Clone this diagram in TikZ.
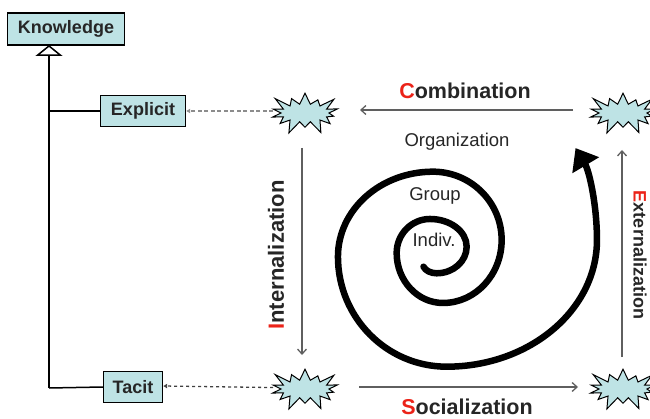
\documentclass[tikz,border=0pt]{standalone}
\usepackage{fontspec}
\setmainfont{Liberation Sans}
\usetikzlibrary{arrows.meta,shapes.symbols}
\definecolor{boxfill}{RGB}{190,227,229}
\definecolor{lred}{RGB}{235,35,25}
\definecolor{flowgray}{RGB}{95,95,95}
\tikzset{
 kbox/.style={draw, line width=1.2pt, fill=boxfill, inner sep=0pt, font=\fontsize{18}{21}\selectfont\bfseries, text=black!85},
 burst/.style={starburst, starburst points=14, starburst point height=15pt, draw, line width=1pt, fill=boxfill, minimum width=78pt, minimum height=48pt, inner sep=0pt},
 flow/.style={draw=flowgray, line width=1.3pt, -{Straight Barb[length=5pt,width=9pt]}},
 modelab/.style={font=\fontsize{21.5}{25}\selectfont\bfseries, text=black!85},
 levellab/.style={font=\fontsize{18.5}{22}\selectfont, text=black!85},
 tree/.style={draw=black, line width=1.5pt},
 gentip/.style={-{Triangle[open, width=27pt, length=11pt, line width=1.5pt]}},
 lightdash/.style={draw=black!45, line width=1.5pt, dash pattern=on 4pt off 2.5pt, -{Latex[length=4pt,width=5pt]}},
 darkdash/.style={draw=black!75, line width=1.3pt, dash pattern=on 3pt off 3pt, -{Latex[length=4pt,width=5pt]}},
 spiral/.style={line width=6.5pt, line cap=round, -{Triangle[width=30pt,length=20pt]}}
}
\begin{document}
\begin{tikzpicture}[x=1pt,y=1pt]
\useasboundingbox (0,0) rectangle (650,418);
% knowledge boxes
\node[kbox, minimum width=117pt, minimum height=32pt] (K) at (66,389) {Knowledge};
\node[kbox, minimum width=85pt, minimum height=31pt] (E) at (143,307) {Explicit};
\node[kbox, minimum width=59pt, minimum height=31pt] (T) at (133,31) {Tacit};
\coordinate (c1) at (49,30);
\coordinate (c2) at (49,307);
\coordinate (c3) at (49,373);
\draw[tree] (T.west) -- (c1);
\draw[tree, gentip] (c1) -- (c3);
\draw[tree] (c2) -- (E.west);
% bursts
\node[burst] (TL) at (305,305) {};
\node[burst] (BL) at (305,29) {};
\node[burst] (TR) at (623,305) {};
\node[burst] (BR) at (623,29) {};
% dashed links
\draw[lightdash, shorten <=32pt] ([yshift=2pt]TL.center) -- (E.east);
\draw[darkdash, shorten <=32pt] ([yshift=1pt]BL.center) -- ([yshift=1pt]T.east);
% conversion arrows
\draw[flow, shorten <=50pt, shorten >=55pt] ([yshift=3pt]TR.center) -- ([yshift=3pt]TL.center);
\draw[flow, shorten <=35pt, shorten >=34pt] ([xshift=-3pt]TL.center) -- ([xshift=-3pt]BL.center);
\draw[flow, shorten <=54pt, shorten >=45pt] ([yshift=2pt]BL.center) -- ([yshift=2pt]BR.center);
\draw[flow, shorten <=32pt, shorten >=37pt] ([xshift=-1pt]BR.center) -- ([xshift=-1pt]TR.center);
% labels
\node[modelab] (comb) at (465,327) {\textcolor{lred}{C}ombination};
\node[modelab] (soc) at (467,11) {\textcolor{lred}{S}ocialization};
\node[modelab, font=\fontsize{22}{26}\selectfont\bfseries, rotate=90] (int) at (276,163) {\textcolor{lred}{I}nternalization};
\node[modelab, font=\fontsize{18}{22}\selectfont\bfseries, rotate=-90] (ext) at (640,163) {\textcolor{lred}{E}xternalization};
\node[levellab] (org) at (457,276) {Organization};
\node[levellab] (grp) at (435,222) {Group};
\node[levellab] (ind) at (434,178) {Indiv.};
% spiral
\draw[spiral] (423.5,151.3)
 arc[start angle=200,end angle=270,x radius=14,y radius=10]
 arc[start angle=270,end angle=360,x radius=30,y radius=26.6]
 arc[start angle=0,end angle=90,x radius=36.7,y radius=27.7]
 arc[start angle=90,end angle=180,x radius=33.3,y radius=34]
 arc[start angle=180,end angle=270,x radius=46.3,y radius=50]
 arc[start angle=270,end angle=360,x radius=58.7,y radius=63]
 arc[start angle=0,end angle=90,x radius=68.7,y radius=68.3]
 arc[start angle=90,end angle=180,x radius=95,y radius=85]
 arc[start angle=180,end angle=270,x radius=108.7,y radius=110]
 arc[start angle=270,end angle=360,x radius=150.3,y radius=126.7]
 arc[start angle=0,end angle=50,x radius=60,y radius=120];
\end{tikzpicture}
\end{document}
